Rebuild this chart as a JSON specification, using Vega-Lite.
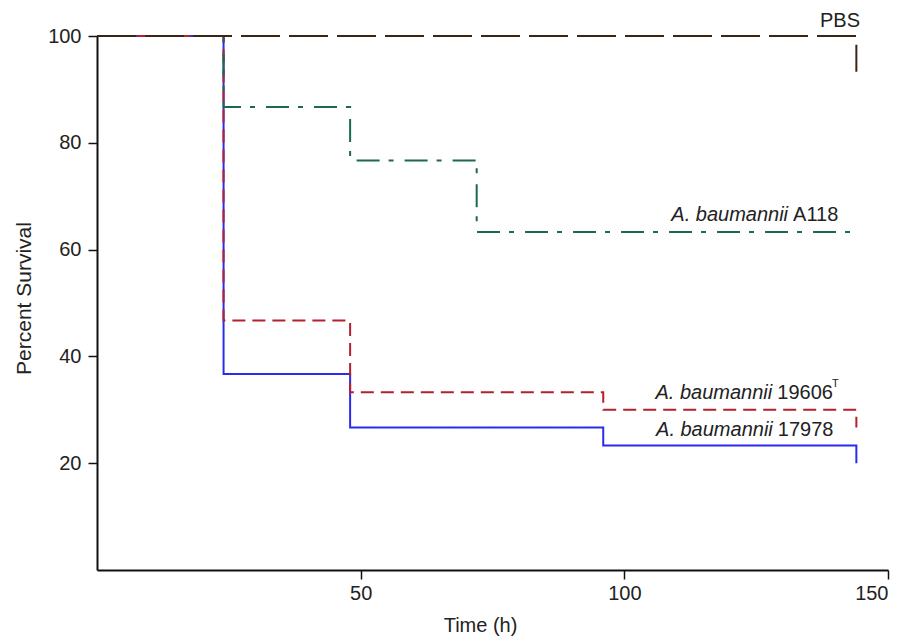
{
  "$schema": "https://vega.github.io/schema/vega-lite/v6.json",
  "width": 791,
  "height": 534,
  "autosize": "none",
  "padding": {"left": 97, "top": 36, "right": 14, "bottom": 71},
  "background": "white",
  "config": {
    "view": {"stroke": null},
    "font": "Liberation Sans",
    "axis": {
      "grid": false,
      "domainColor": "#111111",
      "domainWidth": 2,
      "tickColor": "#111111",
      "tickWidth": 1.5,
      "tickSize": 9,
      "labelFont": "Liberation Sans",
      "labelFontSize": 20,
      "labelColor": "#222222",
      "titleFont": "Liberation Sans",
      "titleFontWeight": "normal",
      "titleColor": "#222222"
    }
  },
  "datasets": {
    "curves": [
      {"group": "17978", "t": 0, "s": 100},
      {"group": "17978", "t": 24, "s": 36.7},
      {"group": "17978", "t": 48, "s": 26.7},
      {"group": "17978", "t": 96, "s": 23.3},
      {"group": "17978", "t": 144, "s": 23.3},
      {"group": "17978", "t": 144, "s": 20},
      {"group": "19606", "t": 0, "s": 100},
      {"group": "19606", "t": 24, "s": 46.7},
      {"group": "19606", "t": 48, "s": 33.3},
      {"group": "19606", "t": 96, "s": 30},
      {"group": "19606", "t": 144, "s": 30},
      {"group": "19606", "t": 144, "s": 26.7},
      {"group": "A118", "t": 0, "s": 100},
      {"group": "A118", "t": 24, "s": 86.7},
      {"group": "A118", "t": 48, "s": 76.7},
      {"group": "A118", "t": 72, "s": 63.3},
      {"group": "A118", "t": 144, "s": 63.3},
      {"group": "PBS", "t": 0, "s": 100},
      {"group": "PBS", "t": 144, "s": 100},
      {"group": "PBS", "t": 144, "s": 93.3}
    ],
    "labels": [
      {"kind": "roman", "t": 137.1, "s": 102.9, "text": "PBS"},
      {"kind": "italic", "t": 132.0, "s": 66.5, "text": "A. baumannii"},
      {"kind": "roman", "t": 132.0, "s": 66.5, "text": "A118"},
      {"kind": "italic", "t": 129.0, "s": 33.1, "text": "A. baumannii"},
      {"kind": "roman", "t": 129.0, "s": 33.1, "text": "19606"},
      {"kind": "sup", "t": 139.4, "s": 34.8, "text": "T"},
      {"kind": "italic", "t": 129.1, "s": 26.2, "text": "A. baumannii"},
      {"kind": "roman", "t": 129.1, "s": 26.2, "text": "17978"}
    ]
  },
  "layer": [
    {
      "data": {"name": "curves"},
      "mark": {"type": "line", "interpolate": "step-after", "strokeWidth": 2, "strokeCap": "butt"},
      "encoding": {
        "x": {
          "field": "t", "type": "quantitative",
          "scale": {"domain": [0, 150], "nice": false, "zero": true},
          "axis": {"values": [50, 100, 150], "title": "Time (h)", "titleFontSize": 20, "labelPadding": 4, "titlePadding": 12, "titleX": 383}
        },
        "y": {
          "field": "s", "type": "quantitative",
          "scale": {"domain": [0, 100], "nice": false},
          "axis": {"values": [20, 40, 60, 80, 100], "title": "Percent Survival", "titleFontSize": 21, "labelPadding": 7, "titlePadding": 13, "titleY": 262}
        },
        "color": {
          "field": "group", "type": "nominal",
          "scale": {"domain": ["17978", "19606", "A118", "PBS"], "range": ["#2a2af0", "#b3202e", "#1b6a4a", "#3b2616"]},
          "legend": null
        },
        "strokeDash": {
          "field": "group", "type": "nominal",
          "scale": {"domain": ["17978", "19606", "A118", "PBS"], "range": [[1, 0], [13, 7], [23, 9, 5, 11], [39, 9]]},
          "legend": null
        },
        "order": {"field": "t", "type": "quantitative"}
      }
    },
    {
      "data": {"name": "labels"},
      "transform": [{"filter": "datum.kind === 'roman'"}],
      "mark": {"type": "text", "align": "left", "baseline": "middle", "fontSize": 20, "color": "#222222", "font": "Liberation Sans"},
      "encoding": {
        "x": {"field": "t", "type": "quantitative"},
        "y": {"field": "s", "type": "quantitative"},
        "text": {"field": "text"}
      }
    },
    {
      "data": {"name": "labels"},
      "transform": [{"filter": "datum.kind === 'italic'"}],
      "mark": {"type": "text", "align": "right", "baseline": "middle", "fontSize": 20, "fontStyle": "italic", "dx": -5, "color": "#222222", "font": "Liberation Sans"},
      "encoding": {
        "x": {"field": "t", "type": "quantitative"},
        "y": {"field": "s", "type": "quantitative"},
        "text": {"field": "text"}
      }
    },
    {
      "data": {"name": "labels"},
      "transform": [{"filter": "datum.kind === 'sup'"}],
      "mark": {"type": "text", "align": "left", "baseline": "middle", "fontSize": 11, "color": "#222222", "font": "Liberation Sans"},
      "encoding": {
        "x": {"field": "t", "type": "quantitative"},
        "y": {"field": "s", "type": "quantitative"},
        "text": {"field": "text"}
      }
    }
  ]
}
